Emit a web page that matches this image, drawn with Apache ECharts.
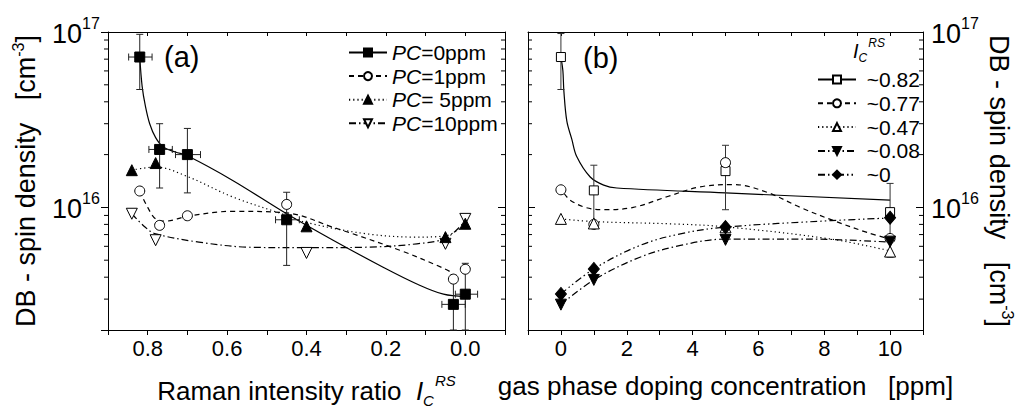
<!DOCTYPE html>
<html>
<head>
<meta charset="utf-8">
<script src="https://cdn.jsdelivr.net/npm/echarts@6/dist/echarts.min.js"></script>
<style>
html,body{margin:0;padding:0;background:#fff;}
#chart{width:1023px;height:415px;}
</style>
</head>
<body>
<div id="chart"></div>
<script>
// ---------- Panel (a): markers (x = Raman intensity ratio, y = spin density) ----------
const pc0Points  = [[0.82,7.2e16],[0.77,2.14e16],[0.70,2.0e16],[0.45,8.5e15],[0.03,2.8e15],[0.0,3.2e15]];
const pc1Points  = [[0.82,1.24e16],[0.77,7.9e15],[0.70,8.96e15],[0.45,1.04e16],[0.03,3.9e15],[0.0,4.44e15]];
const pc5Points  = [[0.84,1.63e16],[0.78,1.79e16],[0.40,7.8e15],[0.05,6.77e15],[0.0,8.07e15]];
const pc10Points = [[0.84,9.2e15],[0.78,6.5e15],[0.40,5.5e15],[0.05,6.2e15],[0.0,8.6e15]];
// error bars for PC=0: [x, y, yLow, yHigh, xLow, xHigh]
const pc0Errors = [
  [0.82,7.2e16,4.7e16,9.7e16,0.789,0.848],
  [0.77,2.14e16,1.29e16,3.0e16,0.738,0.797],
  [0.70,2.0e16,1.21e16,2.82e16,0.667,0.73],
  [0.45,8.5e15,4.67e15,1.22e16,0.418,0.478],
  [0.03,2.8e15,2.0e15,4.1e15,0.0,0.059],
  [0.0,3.2e15,2.0e15,4.8e15,-0.031,0.025]
];
// fitted guide curves
const pc0Curve  = [[0.82,7.2e16],[0.814,4.9e16],[0.806,3.8e16],[0.795,3.0e16],[0.78,2.5e16],[0.76,2.2e16],[0.73,2.07e16],[0.70,1.97e16],[0.587,1.43e16],[0.45,9.2e15],[0.333,6.5e15],[0.207,4.56e15],[0.122,3.66e15],[0.055,3.2e15],[0.0,3.1e15]];
const pc1Curve  = [[0.82,1.24e16],[0.80,1.0e16],[0.78,8.6e15],[0.755,8.35e15],[0.70,8.9e15],[0.587,9.5e15],[0.45,9.3e15],[0.333,7.7e15],[0.165,5.7e15],[0.055,4.5e15],[0.03,4.2e15]];
const pc5Curve  = [[0.84,1.63e16],[0.78,1.70e16],[0.70,1.5e16],[0.587,1.15e16],[0.45,9.0e15],[0.40,8.2e15],[0.249,7.07e15],[0.122,6.77e15],[0.048,6.9e15],[0.0,8.0e15]];
const pc10Curve = [[0.84,9.2e15],[0.806,7.7e15],[0.78,7.07e15],[0.671,6.34e15],[0.544,5.93e15],[0.40,5.89e15],[0.249,5.93e15],[0.122,6.2e15],[0.048,6.7e15],[0.0,8.4e15]];

// ---------- Panel (b): markers (x = doping concentration ppm) ----------
const ic82Points = [[0,7.2e16],[1,1.25e16],[5,1.61e16],[10,9.4e15]];
const ic77Points = [[0,1.26e16],[1,8.0e15],[5,1.8e16],[10,6.65e15]];
const ic47Points = [[0,8.6e15],[1,8.1e15],[5,7.7e15],[10,5.6e15]];
const ic08Points = [[0,2.79e15],[1,3.86e15],[5,6.53e15],[10,6.38e15]];
const ic0Points  = [[0,3.21e15],[1,4.46e15],[5,7.72e15],[10,8.73e15]];
// error bars for ~0.82: [x, y, yLow, yHigh]
const ic82Errors = [[0,7.2e16,4.7e16,9.8e16],[1,1.25e16,7.6e15,1.74e16],[5,1.61e16,9.7e15,2.26e16],[10,9.4e15,5.2e15,1.37e16]];
const ic82Curve = [[0,7.2e16],[0.06,6.0e16],[0.09,4.6e16],[0.18,3.1e16],[0.33,2.45e16],[0.48,1.95e16],[0.89,1.49e16],[1.3,1.34e16],[1.7,1.29e16],[5,1.21e16],[10,1.1e16]];
const ic77Curve = [[0.1,1.2e16],[0.28,1.1e16],[0.74,1.0e16],[1.3,9.7e15],[2.2,1.0e16],[3.22,1.15e16],[4.23,1.31e16],[5.25,1.35e16],[6.26,1.22e16],[7.27,1.0e16],[8.29,8.4e15],[9.3,7.2e15],[10,6.6e15]];
const ic47Curve = [[0,8.6e15],[1,8.3e15],[3.4,8.05e15],[5,7.75e15],[8.2,6.6e15],[10,5.65e15]];
const ic08Curve = [[0,2.79e15],[1,3.86e15],[2.4,5.2e15],[3.63,6.07e15],[5,6.6e15],[7.5,6.6e15],[10,6.34e15]];
const ic0Curve  = [[0,3.21e15],[1,4.46e15],[2.4,6.07e15],[3.63,7.07e15],[5,7.72e15],[8.2,8.4e15],[10,8.7e15]];

// ---------- axes ----------
const yMin = 2e15, yMax = 1e17;
const yMajorLabels = [1e16, 1e17];
const yMinorTicks = [3e15,4e15,5e15,6e15,7e15,8e15,9e15,2e16,3e16,4e16,5e16,6e16,7e16,8e16,9e16];
const xRangeA = [-0.1, 0.9];
const xRangeB = [-1, 11];

const legendANames = ['PC=0ppm','PC=1ppm','PC= 5ppm','PC=10ppm'];
const legendBNames = ['~0.82','~0.77','~0.47','~0.08','~0'];

const FONT = 'Liberation Sans, Arial, Helvetica, sans-serif';
const BLACK = '#000';

function tok(size, extra){
  return Object.assign({fontSize:size, fontFamily:FONT, color:BLACK, fill:BLACK}, extra || {});
}

function errRenderXY(params, api){
  const x = api.value(0), y = api.value(1);
  const lo = api.coord([x, api.value(2)]), hi = api.coord([x, api.value(3)]);
  const xl = api.coord([api.value(4), y]), xh = api.coord([api.value(5), y]);
  const s = {stroke:'#222', lineWidth:1};
  const c = 3.5;
  return {type:'group', children:[
    {type:'line', shape:{x1:lo[0],y1:lo[1],x2:hi[0],y2:hi[1]}, style:s},
    {type:'line', shape:{x1:lo[0]-c,y1:lo[1],x2:lo[0]+c,y2:lo[1]}, style:s},
    {type:'line', shape:{x1:hi[0]-c,y1:hi[1],x2:hi[0]+c,y2:hi[1]}, style:s},
    {type:'line', shape:{x1:xl[0],y1:xl[1],x2:xh[0],y2:xh[1]}, style:s},
    {type:'line', shape:{x1:xl[0],y1:xl[1]-c,x2:xl[0],y2:xl[1]+c}, style:s},
    {type:'line', shape:{x1:xh[0],y1:xh[1]-c,x2:xh[0],y2:xh[1]+c}, style:s}
  ]};
}
function errRenderY(params, api){
  const x = api.value(0);
  const lo = api.coord([x, api.value(2)]), hi = api.coord([x, api.value(3)]);
  const s = {stroke:'#333', lineWidth:1};
  const c = 3.5;
  return {type:'group', children:[
    {type:'line', shape:{x1:lo[0],y1:lo[1],x2:hi[0],y2:hi[1]}, style:s},
    {type:'line', shape:{x1:lo[0]-c,y1:lo[1],x2:lo[0]+c,y2:lo[1]}, style:s},
    {type:'line', shape:{x1:hi[0]-c,y1:hi[1],x2:hi[0]+c,y2:hi[1]}, style:s}
  ]};
}
function minorTickRender(leftOut){
  return function(params, api){
    const cs = params.coordSys;
    const y = api.coord([0, api.value(1)])[1];
    const L = 4, s = {stroke:BLACK, lineWidth:1};
    const xl = cs.x, xr = cs.x + cs.width;
    return {type:'group', children:[
      {type:'line', shape:{x1: leftOut ? xl - L : xl, y1:y, x2: leftOut ? xl : xl + L, y2:y}, style:s},
      {type:'line', shape:{x1:xr - L, y1:y, x2:xr, y2:y}, style:s}
    ]};
  };
}
// power-of-ten tick labels "10^n", placed on the log axis through the library's scale
function powerLabelRender(onLeft){
  return function(params, api){
    const cs = params.coordSys;
    const v = api.value(1);
    const y = api.coord([0, v])[1];
    const e = String(Math.round(Math.log10(v)));
    const mant = {text:'10', fontSize:27, fontFamily:FONT, fill:BLACK, verticalAlign:'middle'};
    const expo = {text:e, fontSize:16, fontFamily:FONT, fill:BLACK, verticalAlign:'middle', align:'left'};
    if (onLeft){
      const xr = cs.x - 8;
      return {type:'group', children:[
        {type:'text', x:xr - 18, y:y + 1.5, style:Object.assign({}, mant, {align:'right'})},
        {type:'text', x:xr - 18, y:y - 9, style:expo}
      ]};
    }
    const xl = cs.x + cs.width + 8;
    return {type:'group', children:[
      {type:'text', x:xl, y:y + 1.5, style:Object.assign({}, mant, {align:'left'})},
      {type:'text', x:xl + 30, y:y - 9, style:expo}
    ]};
  };
}

const axisLineStyle = {show:true, onZero:false, lineStyle:{color:BLACK, width:1}};

const titleRich = {
  t:tok(26),
  i:tok(26, {fontStyle:'italic'}),
  sub:tok(15, {fontStyle:'italic', padding:[19,0,0,0]}),
  sup:tok(15, {fontStyle:'italic', padding:[0,0,21,1]})
};

function xAxisBottom(grid, range, fmt, name){
  return {
    gridIndex:grid, type:'value', min:range[0], max:range[1], interval: grid === 0 ? 0.1 : 1,
    inverse: grid === 0, position:'bottom',
    axisLine:axisLineStyle, splitLine:{show:false},
    axisTick:{show:true, inside:false, length:5, lineStyle:{color:BLACK}},
    axisLabel:{show:true, margin:7, fontSize:22, fontFamily:FONT, color:BLACK, formatter:fmt},
    name:name, nameLocation:'middle', nameGap:43,
    nameTextStyle:{fontSize:26, fontFamily:FONT, color:BLACK, rich:titleRich}
  };
}
function xAxisTop(grid, range){
  return {
    gridIndex:grid, type:'value', min:range[0], max:range[1], interval: grid === 0 ? 0.1 : 1,
    inverse: grid === 0, position:'top',
    axisLine:axisLineStyle, splitLine:{show:false},
    axisTick:{show:true, inside:true, length:4, lineStyle:{color:BLACK}},
    axisLabel:{show:false}
  };
}
function yAxisDef(grid, pos, tickInside, name, rot, gap){
  const a = {
    gridIndex:grid, type:'log', logBase:10, min:yMin, max:yMax, position:pos,
    axisLine:axisLineStyle, splitLine:{show:false}, minorTick:{show:false},
    axisTick:{show:true, inside:tickInside, length:7, lineStyle:{color:BLACK}},
    axisLabel:{show:false}
  };
  if (name){
    a.name = name; a.nameLocation = 'middle'; a.nameRotate = rot; a.nameGap = gap;
    a.nameTextStyle = {fontSize:27, fontFamily:FONT, color:BLACK, rich:{
      t:tok(27),
      sup:tok(16, {padding:[0,0,16,0]})
    }};
  }
  return a;
}

const fmtA = v => { const k = Math.round(v*10); return (k >= 0 && k % 2 === 0) ? (k/10).toFixed(1) : ''; };
const fmtB = v => { const k = Math.round(v); return (k >= 0 && k <= 10 && k % 2 === 0) ? String(k) : ''; };

const yTitle = '{t|DB - spin density   [cm}{sup|-3}{t|]}';

function curve(name, data, xi, yi, dash, symbol, fill, rotate){
  return {
    name:name, type:'line', xAxisIndex:xi, yAxisIndex:yi, data:data, smooth:0.35,
    showSymbol:false, symbol:symbol, symbolSize:9, symbolRotate:rotate || 0,
    itemStyle:{color:fill, borderColor:BLACK, borderWidth:1},
    lineStyle:{color:BLACK, width:1.2, type:dash},
    emphasis:{disabled:true}, silent:true, z:2
  };
}
function markers(name, data, xi, yi, symbol, fill, size, rotate){
  return {
    name:name, type:'scatter', xAxisIndex:xi, yAxisIndex:yi, data:data,
    symbol:symbol, symbolSize:size, symbolRotate:rotate || 0,
    itemStyle:{color:fill, borderColor:BLACK, borderWidth:1, opacity:1},
    emphasis:{disabled:true}, silent:true, z:4
  };
}

const DASH = [5,4], DOT = [1.2,3], DASHDOT = [7,3,1.5,3], DASHDOTDOT = [7,3,1.5,3,1.5,3];

const chart = echarts.init(document.getElementById('chart'), null, {renderer:'svg'});
chart.setOption({
  animation:false,
  backgroundColor:'#fff',
  textStyle:{fontFamily:FONT, color:BLACK},
  grid:[
    {left:108, right:518, top:32, bottom:85},
    {left:528, right:100, top:32, bottom:85}
  ],
  xAxis:[
    xAxisBottom(0, xRangeA, fmtA, '{t|Raman intensity ratio  }{i|I}{sub|C}{sup|RS}'),
    xAxisTop(0, xRangeA),
    xAxisBottom(1, xRangeB, fmtB, '{t|gas phase doping concentration   [ppm]}'),
    xAxisTop(1, xRangeB)
  ],
  yAxis:[
    yAxisDef(0, 'left', false, yTitle, 90, 66),
    yAxisDef(0, 'right', true),
    yAxisDef(1, 'left', true),
    yAxisDef(1, 'right', true, yTitle, -90, 60)
  ],
  legend:[
    {
      orient:'vertical', left:343, top:37, itemWidth:38, itemHeight:10, itemGap:2.6,
      data:legendANames, selectedMode:false,
      formatter: n => '{i|PC}{t|' + n.slice(2) + '}',
      textStyle:{fontSize:21, fontFamily:FONT, color:BLACK, lineHeight:20, rich:{
        t:tok(21, {lineHeight:20}),
        i:tok(21, {fontStyle:'italic', lineHeight:20})
      }}
    },
    {
      orient:'vertical', left:812, top:64, itemWidth:38, itemHeight:10, itemGap:2.8,
      data:legendBNames, selectedMode:false,
      formatter: n => '{t| ' + n + '}',
      textStyle:{fontSize:21, fontFamily:FONT, color:BLACK, lineHeight:20, rich:{
        t:tok(21, {lineHeight:20})
      }}
    }
  ],
  graphic:[
    {type:'text', left:164, top:42, style:{text:'(a)', fontSize:29, fontFamily:FONT, fill:BLACK}},
    {type:'text', left:583, top:43, style:{text:'(b)', fontSize:29, fontFamily:FONT, fill:BLACK}},
    {type:'text', left:853, top:37, style:{
      text:'{i|I}{sub|C}{sup|RS}', fontSize:20, fontFamily:FONT, fill:BLACK,
      rich:{
        i:tok(20, {fontStyle:'italic'}),
        sub:tok(12, {fontStyle:'italic', padding:[14,0,0,0]}),
        sup:tok(12, {fontStyle:'italic', padding:[0,0,16,1]})
      }
    }}
  ],
  series:[
    // minor ticks and power-of-ten labels of the log axes
    {type:'custom', xAxisIndex:0, yAxisIndex:0, data:yMinorTicks.map(v => [0, v]), renderItem:minorTickRender(true), silent:true, z:1},
    {type:'custom', xAxisIndex:2, yAxisIndex:3, data:yMinorTicks.map(v => [0, v]), renderItem:minorTickRender(false), silent:true, z:1},
    {type:'custom', xAxisIndex:0, yAxisIndex:0, data:yMajorLabels.map(v => [0, v]), renderItem:powerLabelRender(true), silent:true, z:1},
    {type:'custom', xAxisIndex:2, yAxisIndex:3, data:yMajorLabels.map(v => [0, v]), renderItem:powerLabelRender(false), silent:true, z:1},
    // panel (a) curves (legend icons come from these)
    curve('PC=0ppm', pc0Curve, 0, 0, 'solid', 'rect', BLACK),
    curve('PC=1ppm', pc1Curve, 0, 0, DASH, 'circle', '#fff'),
    curve('PC= 5ppm', pc5Curve, 0, 0, DOT, 'triangle', BLACK),
    curve('PC=10ppm', pc10Curve, 0, 0, DASHDOT, 'triangle', '#fff', 180),
    // panel (b) curves
    curve('~0.82', ic82Curve, 2, 3, 'solid', 'rect', '#fff'),
    curve('~0.77', ic77Curve, 2, 3, DASH, 'circle', '#fff'),
    curve('~0.47', ic47Curve, 2, 3, DOT, 'triangle', '#fff'),
    curve('~0.08', ic08Curve, 2, 3, DASHDOT, 'triangle', BLACK, 180),
    curve('~0', ic0Curve, 2, 3, DASHDOTDOT, 'diamond', BLACK),
    // error bars
    {type:'custom', name:'errA', xAxisIndex:0, yAxisIndex:0, data:pc0Errors, renderItem:errRenderXY, silent:true, z:3},
    {type:'custom', name:'errB', xAxisIndex:2, yAxisIndex:3, data:ic82Errors, renderItem:errRenderY, silent:true, z:3},
    // markers
    markers('mA1', pc1Points, 0, 0, 'circle', '#fff', 10),
    markers('mA10', pc10Points, 0, 0, 'triangle', '#fff', 11, 180),
    markers('mA5', pc5Points, 0, 0, 'triangle', BLACK, 11),
    markers('mA0', pc0Points, 0, 0, 'rect', BLACK, 10),
    markers('mB82', ic82Points, 2, 3, 'rect', '#fff', 9),
    markers('mB77', ic77Points, 2, 3, 'circle', '#fff', 10),
    markers('mB47', ic47Points, 2, 3, 'triangle', '#fff', 11),
    markers('mB08', ic08Points, 2, 3, 'triangle', BLACK, 11, 180),
    markers('mB0', ic0Points, 2, 3, 'diamond', BLACK, [11,13])
  ]
});
</script>
</body>
</html>
